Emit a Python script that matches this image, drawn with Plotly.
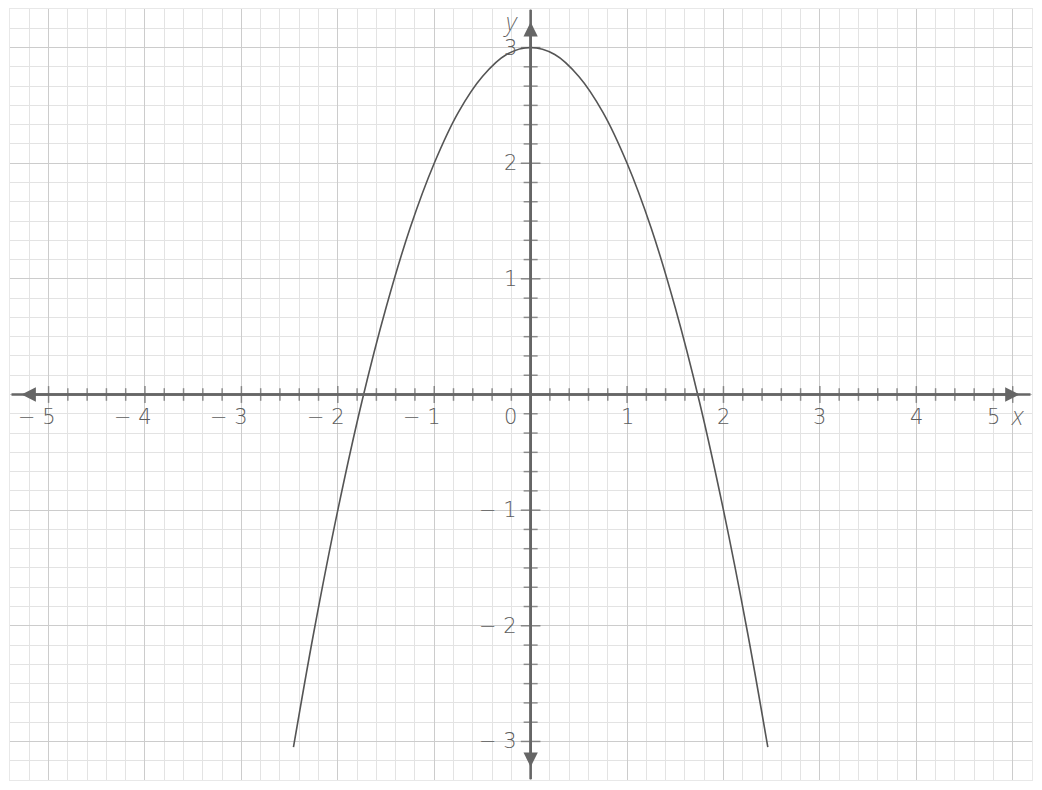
import plotly.graph_objects as go

# points (x, y)
curve_x = [-2.46, -2.25, -2.0, -1.75, -1.5, -1.25, -1.0, -0.75, -0.5, -0.25, 0.0,
           0.25, 0.5, 0.75, 1.0, 1.25, 1.5, 1.75, 2.0, 2.25, 2.46]
curve_y = [-3.05, -2.06, -1.0, -0.06, 0.75, 1.44, 2.0, 2.44, 2.75, 2.94, 3.0,
           2.94, 2.75, 2.44, 2.0, 1.44, 0.75, -0.06, -1.0, -2.06, -3.05]

# tick labels
x_label_vals = [-5, -4, -3, -2, -1, 0, 1, 2, 3, 4, 5]
x_label_text = ["− 5", "− 4", "− 3", "− 2", "− 1", "0", "1", "2", "3", "4", "5"]
y_label_vals = [-3, -2, -1, 1, 2, 3]
y_label_text = ["− 3", "− 2", "− 1", "1", "2", "3"]

AXIS = "#666666"
TEXT = "#5c5c5c"
lab_font = dict(family="DejaVu Sans", weight=200, size=21, color=TEXT)
var_font = dict(family="Noto Sans", weight=200, size=25, color=TEXT)

fig = go.Figure()

# small tick marks crossing the axes
xt = [i / 5 for i in range(-25, 26) if i != 0]
yt = [i / 6 for i in range(-18, 19) if i != 0]
fig.add_trace(go.Scatter(
    x=xt, y=[0] * len(xt), mode="markers", hoverinfo="skip",
    marker=dict(symbol="line-ns", size=[12 if abs(v - round(v)) < 1e-9 else 9 for v in xt],
                line=dict(color=AXIS, width=1.5))))
fig.add_trace(go.Scatter(
    x=[0] * len(yt), y=yt, mode="markers", hoverinfo="skip",
    marker=dict(symbol="line-ew", size=[14 if abs(v - round(v)) < 1e-9 else 10 for v in yt],
                line=dict(color=AXIS, width=1.5))))

# the parabola
fig.add_trace(go.Scatter(x=curve_x, y=curve_y, mode="lines", line_shape="spline",
                         line=dict(color="#555555", width=1.6), hoverinfo="skip"))

# axes with arrowheads
arrows = [(5.07, 0, -5.4, 0), (-5.28, 0, 5.2, 0), (0, 3.22, 0, -3.34), (0, -3.22, 0, 3.34)]
for x1, y1, x0, y0 in arrows:
    fig.add_annotation(x=x1, y=y1, ax=x0, ay=y0, xref="x", yref="y", axref="x", ayref="y",
                       showarrow=True, arrowhead=2, arrowsize=1.1, arrowwidth=2.6,
                       arrowcolor=AXIS, text="")

for v, t in zip(x_label_vals, x_label_text):
    if v == 0:
        fig.add_annotation(x=0, y=0, text=t, showarrow=False, xanchor="right", yanchor="middle",
                           xshift=-12, yshift=-22, font=lab_font)
    else:
        shift = -12 if v < 0 else 0
        if v == x_label_vals[-1]:
            shift = -19  # last label pulled in, clear of the arrow
        fig.add_annotation(x=v, y=0, text=t, showarrow=False, xanchor="center", yanchor="middle",
                           xshift=shift, yshift=-22, font=lab_font)

for v, t in zip(y_label_vals, y_label_text):
    fig.add_annotation(x=0, y=v, text=t, showarrow=False, xanchor="right", yanchor="middle",
                       xshift=-12, font=lab_font)

fig.add_annotation(x=5, y=0, text="<i>x</i>", showarrow=False, xanchor="center", yanchor="middle",
                   xshift=5, yshift=-20, font=var_font)
fig.add_annotation(x=0, y=3, text="<i>y</i>", showarrow=False, xanchor="center", yanchor="middle",
                   xshift=-20, yshift=27, font=var_font)

fig.update_xaxes(range=[-5.4, 5.2], tick0=0, dtick=1, showgrid=True, gridcolor="#cccccc", gridwidth=1,
                 minor=dict(dtick=0.2, showgrid=True, gridcolor="#e3e3e3", gridwidth=1),
                 zeroline=False, showticklabels=False, ticks="",
                 showline=True, mirror=True, linecolor="#e8e8e8", linewidth=1)
fig.update_yaxes(range=[-10 / 3, 10 / 3], tick0=0, dtick=1, showgrid=True, gridcolor="#cccccc", gridwidth=1,
                 minor=dict(dtick=1 / 6, showgrid=True, gridcolor="#e3e3e3", gridwidth=1),
                 zeroline=False, showticklabels=False, ticks="",
                 showline=True, mirror=True, linecolor="#e8e8e8", linewidth=1)

# page body adds 8px, so the figure is a little smaller than the window
fig.update_layout(width=1026, height=774, margin=dict(l=2, r=2, t=1, b=2),
                  plot_bgcolor="white", paper_bgcolor="white", showlegend=False)

fig.write_html("out.html")
